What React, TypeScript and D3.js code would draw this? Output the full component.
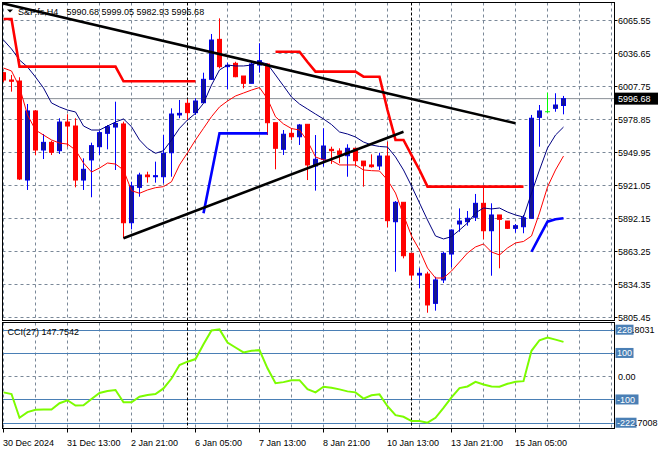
import React from "react";
import * as d3 from "d3";

const FONT = "'Liberation Sans', Arial, sans-serif";

const symbolTitle = "S&P.fs,H4";
const ohlcTitle = "5990.68 5999.05 5982.93 5996.68";
const cciTitle = "CCI(27) 147.7542";
const currentPrice = 5996.68;
const currentLabel = "5996.68";

const timeLabels = ["30 Dec 2024", "31 Dec 13:00", "2 Jan 21:00", "6 Jan 05:00", "7 Jan 13:00", "8 Jan 21:00", "10 Jan 13:00", "13 Jan 21:00", "15 Jan 05:00"];
const labelEveryBars = 8;
const gridEveryBars = 4;

const priceTicks = [6065.55, 6036.65, 6007.75, 5978.85, 5949.95, 5921.05, 5892.15, 5863.25, 5834.35, 5805.45];
const priceTickLabels = ["6065.55", "6036.65", "6007.75", "5978.85", "5949.95", "5921.05", "5892.15", "5863.25", "5834.35", "5805.45"];

const opens = [6019.4, 6013.0, 6012.1, 5925.4, 5985.9, 5951.7, 5958.4, 5951.1, 5976.2, 5972.7, 5925.4, 5943.0, 5954.6, 5966.3, 5971.8, 5974.5, 5888.0, 5919.0, 5929.8, 5928.3, 5928.3, 5949.3, 5982.4, 5992.6, 5984.4, 5993.1, 6013.6, 6048.6, 6024.7, 6027.6, 6016.5, 6010.1, 6026.1, 6027.0, 5975.6, 5952.3, 5966.3, 5963.3, 5974.2, 5937.7, 5943.6, 5952.3, 5950.8, 5946.7, 5953.2, 5942.0, 5938.6, 5937.7, 5946.4, 5888.9, 5905.9, 5861.2, 5842.2, 5843.1, 5817.4, 5837.9, 5860.6, 5886.9, 5888.9, 5892.8, 5905.0, 5881.0, 5894.8, 5889.5, 5883.1, 5884.5, 5891.9, 5980.3, 5985.2, 5988.2, 5990.68];
const highs = [6020.0, 6017.4, 6015.4, 5992.0, 5986.7, 5965.7, 5959.8, 5979.5, 5983.0, 5979.5, 5944.4, 5958.1, 5968.3, 5973.6, 5994.0, 5976.5, 5923.9, 5931.8, 5932.7, 5941.5, 5964.8, 5988.2, 5995.5, 5996.1, 5997.0, 6019.4, 6053.3, 6067.0, 6028.2, 6029.0, 6016.5, 6029.0, 6045.2, 6027.6, 5975.6, 5969.2, 5970.7, 5974.5, 5974.2, 5964.8, 5970.7, 5954.6, 5953.2, 5956.7, 5953.2, 5942.0, 5947.9, 5949.3, 5959.0, 5907.0, 5905.9, 5861.2, 5848.1, 5845.1, 5840.7, 5862.6, 5882.2, 5900.6, 5898.3, 5913.2, 5918.7, 5905.0, 5894.8, 5889.5, 5886.9, 5894.8, 5982.4, 5991.1, 6001.9, 6001.4, 5999.05];
const lows = [6011.3, 6002.8, 5925.4, 5916.7, 5947.3, 5943.8, 5947.3, 5948.2, 5954.6, 5919.0, 5916.7, 5910.3, 5947.3, 5952.3, 5934.2, 5874.4, 5882.2, 5910.8, 5923.1, 5923.1, 5922.5, 5928.3, 5979.5, 5978.0, 5982.4, 5993.1, 6013.0, 6023.2, 6004.9, 6015.4, 6005.7, 6010.1, 6019.4, 5964.8, 5934.8, 5947.3, 5960.5, 5956.1, 5925.4, 5916.1, 5937.1, 5939.5, 5940.1, 5928.3, 5937.7, 5919.6, 5936.2, 5934.2, 5884.0, 5845.1, 5856.8, 5837.9, 5830.5, 5809.2, 5811.0, 5835.2, 5849.0, 5880.1, 5885.4, 5889.5, 5873.5, 5841.6, 5848.1, 5882.5, 5879.3, 5878.8, 5891.9, 5954.6, 5984.4, 5985.2, 5982.93];
const closes = [6013.0, 6011.9, 5926.3, 5985.9, 5951.7, 5958.4, 5949.7, 5976.2, 5972.7, 5925.4, 5934.8, 5955.5, 5966.9, 5972.1, 5974.9, 5888.0, 5920.2, 5929.8, 5928.3, 5929.2, 5948.8, 5983.2, 5983.8, 5984.4, 5994.6, 6013.6, 6048.0, 6024.7, 6025.9, 6015.9, 6010.1, 6027.0, 6029.9, 5975.6, 5953.2, 5965.5, 5963.3, 5973.6, 5938.6, 5943.6, 5955.2, 5951.1, 5947.9, 5953.2, 5942.3, 5937.9, 5937.1, 5946.4, 5889.8, 5905.9, 5859.1, 5842.2, 5843.7, 5816.0, 5837.9, 5861.2, 5881.6, 5889.5, 5891.9, 5905.0, 5881.0, 5894.8, 5891.0, 5883.1, 5885.4, 5892.4, 5979.5, 5985.9, 5985.2, 5991.1, 5996.68];

const navyLine = [6048.0, 6040.2, 6030.5, 6024.4, 6015.6, 6006.0, 5992.9, 5989.4, 5986.7, 5985.0, 5972.7, 5969.2, 5969.2, 5972.7, 5976.2, 5978.9, 5972.1, 5960.5, 5953.2, 5948.8, 5951.1, 5960.5, 5970.7, 5978.0, 5983.8, 5992.6, 6008.6, 6021.8, 6026.1, 6025.3, 6025.3, 6026.1, 6029.0, 6027.0, 6017.4, 6007.8, 5998.1, 5992.0, 5987.6, 5983.2, 5978.9, 5974.0, 5967.5, 5965.7, 5963.1, 5958.7, 5956.1, 5954.8, 5954.3, 5945.6, 5934.2, 5920.2, 5905.3, 5890.4, 5876.4, 5873.8, 5875.8, 5881.6, 5887.8, 5896.6, 5900.9, 5900.1, 5900.9, 5897.4, 5894.8, 5893.0, 5914.0, 5934.2, 5953.4, 5964.8, 5971.8];
const redLine = [6023.5, 6020.9, 6006.9, 5982.4, 5969.2, 5964.8, 5960.5, 5957.8, 5956.9, 5951.7, 5940.3, 5932.4, 5935.9, 5940.3, 5939.4, 5934.2, 5916.1, 5913.8, 5916.7, 5918.7, 5919.6, 5923.9, 5938.6, 5949.3, 5960.5, 5970.7, 5980.9, 5989.4, 5994.6, 5999.0, 6001.6, 6004.2, 6006.4, 5996.5, 5980.8, 5974.5, 5970.5, 5969.2, 5959.6, 5945.6, 5943.0, 5942.5, 5938.6, 5938.6, 5938.6, 5934.2, 5933.6, 5933.3, 5925.4, 5914.0, 5894.8, 5876.4, 5864.1, 5848.3, 5839.6, 5839.6, 5845.7, 5853.6, 5861.5, 5866.8, 5869.4, 5862.4, 5859.8, 5865.9, 5870.3, 5871.6, 5876.4, 5896.6, 5919.3, 5934.2, 5946.4];
const redStop: (number | null)[] = [6066.4, 6066.4, 6024.7, 6024.7, 6024.7, 6024.7, 6024.7, 6024.7, 6024.7, 6024.7, 6024.7, 6024.7, 6024.7, 6024.7, 6024.7, 6011.9, 6011.9, 6011.9, 6011.9, 6011.9, 6011.9, 6011.9, 6011.9, 6011.9, 6011.9, null, null, null, null, null, null, null, null, null, 6037.8, 6037.8, 6037.8, 6037.8, 6028.8, 6020.3, 6020.3, 6020.3, 6020.3, 6020.3, 6020.3, 6015.9, 6015.9, 6015.9, 5986.7, 5960.5, 5960.5, 5947.3, 5934.2, 5919.6, 5919.6, 5919.6, 5919.6, 5919.6, 5919.6, 5919.6, 5919.6, 5919.6, 5919.6, 5919.6, 5919.6, 5919.6, null, null, null, null, null];
const blueStop: (number | null)[] = [null, null, null, null, null, null, null, null, null, null, null, null, null, null, null, null, null, null, null, null, null, null, null, null, null, 5896.3, 5931.3, 5966.3, 5966.3, 5966.3, 5966.3, 5966.3, 5966.3, 5966.3, null, null, null, null, null, null, null, null, null, null, null, null, null, null, null, null, null, null, null, null, null, null, null, null, null, null, null, null, null, null, null, null, 5862.6, 5875.8, 5888.9, 5891.0, 5891.9];

const cciValues = [-69.5, -76.6, -178.7, -154.6, -144.6, -143.2, -143.2, -116, -103.5, -126, -124.8, -97.8, -72.3, -63.8, -59.6, -112, -112, -88, -80.8, -76.6, -52.5, -10, 48.2, 62.4, 73.7, 137.5, 197, 201.4, 144.6, 123.4, 102.1, 109.2, 112, 34, -29.8, -25.5, -17, -17, -55.3, -69.5, -45.4, -49.6, -56.7, -65.2, -69.5, -96.4, -82.2, -78, -129, -167.3, -174.4, -192.8, -192.8, -200, -178.7, -136, -90.8, -51, -44, -24, -35.5, -44, -45.4, -32.6, -24, -21.3, 109.2, 154.6, 166, 157.4, 147.75];
const cciMax = 228.8031;
const cciMin = -222.7008;
// scale max/min labels, split where the level box ends
const cciMaxLabelParts = ["228", ".8031"];
const cciMinLabelParts = ["-222", ".7008"];
const cciBoxLevels = [100, -100];
const cciBoxLabels = ["100", "-100"];

// trend lines as [bar index, price]
const trendUpper: [number, number][] = [[-0.44, 6080.7], [64, 5975.1]];
const trendLower: [number, number][] = [[15, 5874.4], [50, 5967.7]];
const separatorBars = [23, 51];

const L = 2.5, R = 614.5, MT = 2.5, MB = 320.5, CT = 322.5, CB = 428.5;
const GRID = "#7a8898";
const LEVEL = "#4a7fb5";

export default function App() {
  const n = closes.length;
  const x = d3.scaleLinear().domain([0, n - 1]).range([3.5, 3.5 + 8 * (n - 1)]);
  const y = d3.scaleLinear().domain([5805.45, 6065.55]).range([317, 20]);
  const yc = d3.scaleLinear().domain([cciMin, cciMax]).range([428, 323]);

  const lineP = d3.line<number | null>().defined((d) => d != null).x((_, i) => x(i)).y((d) => y(d as number));
  const lineC = d3.line<number>().x((_, i) => x(i)).y((d) => yc(d));
  const lineT = d3.line<[number, number]>().x((d) => x(d[0])).y((d) => y(d[1]));

  const gridBars: number[] = [];
  for (let b = 0; x(b) < R - 1; b += gridEveryBars) gridBars.push(b);
  const labelBars = timeLabels.map((_, i) => i * labelEveryBars);
  const allLevels = [200, 100, -100, -200];

  return (
    <svg width={660} height={450} style={{ position: "fixed", left: 0, top: 0, background: "#fff" }} fontFamily={FONT}>
      <defs>
        <clipPath id="mainClip"><rect x={L} y={MT} width={R - L} height={MB - MT} /></clipPath>
        <clipPath id="cciClip"><rect x={L} y={CT} width={R - L} height={CB - CT} /></clipPath>
      </defs>
      <rect x={0} y={0} width={660} height={450} fill="#fff" />

      <g clipPath="url(#mainClip)">
        {priceTicks.map((p, i) => (
          <line key={"hg" + i} x1={L} x2={R} y1={Math.round(y(p)) + 0.5} y2={Math.round(y(p)) + 0.5} stroke={GRID} strokeDasharray="3,3" />
        ))}
        {gridBars.map((b) => (
          <line key={"vg" + b} x1={x(b)} x2={x(b)} y1={MT} y2={MB} stroke={GRID} strokeDasharray="3,3" />
        ))}
        <line x1={L} x2={R} y1={y(currentPrice)} y2={y(currentPrice)} stroke="#8a8f96" strokeWidth={1} />
        {separatorBars.map((b) => (
          <line key={"sep" + b} x1={x(b)} x2={x(b)} y1={MT} y2={MB} stroke="#000" strokeDasharray="3,2" />
        ))}

        {closes.map((c, i) => {
          const o = opens[i];
          const cx = x(i);
          const doji = o === c;
          const bull = c > o;
          const wick = doji ? "#00ff00" : bull ? "#0000ff" : "#ff0000";
          const yTop = y(Math.max(o, c));
          const yBot = y(Math.min(o, c));
          return (
            <g key={"c" + i}>
              <line x1={cx} x2={cx} y1={y(highs[i])} y2={y(lows[i])} stroke={wick} />
              {doji ? (
                <line x1={cx - 2.5} x2={cx + 2.5} y1={yTop} y2={yTop} stroke={wick} />
              ) : (
                <rect x={cx - 2} y={yTop} width={4} height={Math.max(yBot - yTop, 0.5)} fill={bull ? "#16168f" : "#ff0000"} stroke={bull ? "#0000e6" : "#ff0000"} />
              )}
            </g>
          );
        })}

        <path d={lineP(navyLine) || ""} fill="none" stroke="#000080" strokeWidth={1} />
        <path d={lineP(redLine) || ""} fill="none" stroke="#ff0000" strokeWidth={1} />
        <path d={lineP(redStop) || ""} fill="none" stroke="#ff0000" strokeWidth={2.6} />
        <path d={lineP(blueStop) || ""} fill="none" stroke="#0000ff" strokeWidth={2.6} />
        <path d={lineT(trendUpper) || ""} fill="none" stroke="#000" strokeWidth={2.6} />
        <path d={lineT(trendLower) || ""} fill="none" stroke="#000" strokeWidth={2.6} />
      </g>

      <g clipPath="url(#cciClip)">
        {gridBars.map((b) => (
          <line key={"cvg" + b} x1={x(b)} x2={x(b)} y1={CT} y2={CB} stroke={GRID} strokeDasharray="3,3" />
        ))}
        <line x1={L} x2={R} y1={Math.round(yc(0)) + 0.5} y2={Math.round(yc(0)) + 0.5} stroke={GRID} strokeDasharray="3,3" />
        {allLevels.map((v) => (
          <line key={"lv" + v} x1={L} x2={R} y1={Math.round(yc(v)) + 0.5} y2={Math.round(yc(v)) + 0.5} stroke={LEVEL} />
        ))}
        {separatorBars.map((b) => (
          <line key={"csep" + b} x1={x(b)} x2={x(b)} y1={CT} y2={CB} stroke="#000" strokeDasharray="3,2" />
        ))}
        <path d={lineC(cciValues) || ""} fill="none" stroke="#7cfc00" strokeWidth={2} />
      </g>

      <rect x={L} y={MT} width={R - L} height={MB - MT} fill="none" stroke="#000" />
      <rect x={L} y={CT} width={R - L} height={CB - CT} fill="none" stroke="#000" />

      {priceTicks.map((p, i) => (
        <g key={"pt" + i}>
          <line x1={R} x2={R + 3} y1={Math.round(y(p)) + 0.5} y2={Math.round(y(p)) + 0.5} stroke="#000" />
          <text x={618} y={y(p) + 3.5} fontSize={9} fill="#000">{priceTickLabels[i]}</text>
        </g>
      ))}
      <rect x={615} y={y(currentPrice) - 6} width={43} height={12} fill="#000" />
      <text x={618} y={y(currentPrice) + 3.5} fontSize={9} fill="#fff">{currentLabel}</text>

      {cciBoxLevels.map((v, i) => (
        <g key={"cb" + v}>
          <rect x={615.5} y={yc(v) - 5} width={cciBoxLabels[i].length * 5 + 3} height={10} fill={LEVEL} />
          <text x={617} y={yc(v) + 3.3} fontSize={9} fill="#fff">{cciBoxLabels[i]}</text>
        </g>
      ))}
      <rect x={615.5} y={yc(200) - 5} width={18} height={10} fill={LEVEL} />
      <rect x={615.5} y={yc(-200) - 5} width={21} height={10} fill={LEVEL} />
      <text x={618} y={yc(0) + 3.3} fontSize={9} fill="#000">0.00</text>
      <text x={617} y={yc(200) + 3.3} fontSize={9}>
        <tspan fill="#fff">{cciMaxLabelParts[0]}</tspan>
        <tspan fill="#000">{cciMaxLabelParts[1]}</tspan>
      </text>
      <text x={617} y={yc(-200) + 3.3} fontSize={9}>
        <tspan fill="#fff">{cciMinLabelParts[0]}</tspan>
        <tspan fill="#000">{cciMinLabelParts[1]}</tspan>
      </text>

      {labelBars.map((b, i) => (
        <g key={"tl" + i}>
          <line x1={x(b)} x2={x(b)} y1={CB} y2={CB + 4} stroke="#000" />
          <text x={x(b) - 0.5} y={446} fontSize={9} fill="#000">{timeLabels[i]}</text>
        </g>
      ))}

      <path d="M7,9.5 L13,9.5 L10,12.5 Z" fill="#000" />
      <text x={18} y={14.5} fontSize={9} fill="#000">{symbolTitle}</text>
      <text x={66.5} y={14.5} fontSize={9} fill="#000">{ohlcTitle}</text>
      <text x={7.5} y={334.5} fontSize={9} fill="#000">{cciTitle}</text>
    </svg>
  );
}
